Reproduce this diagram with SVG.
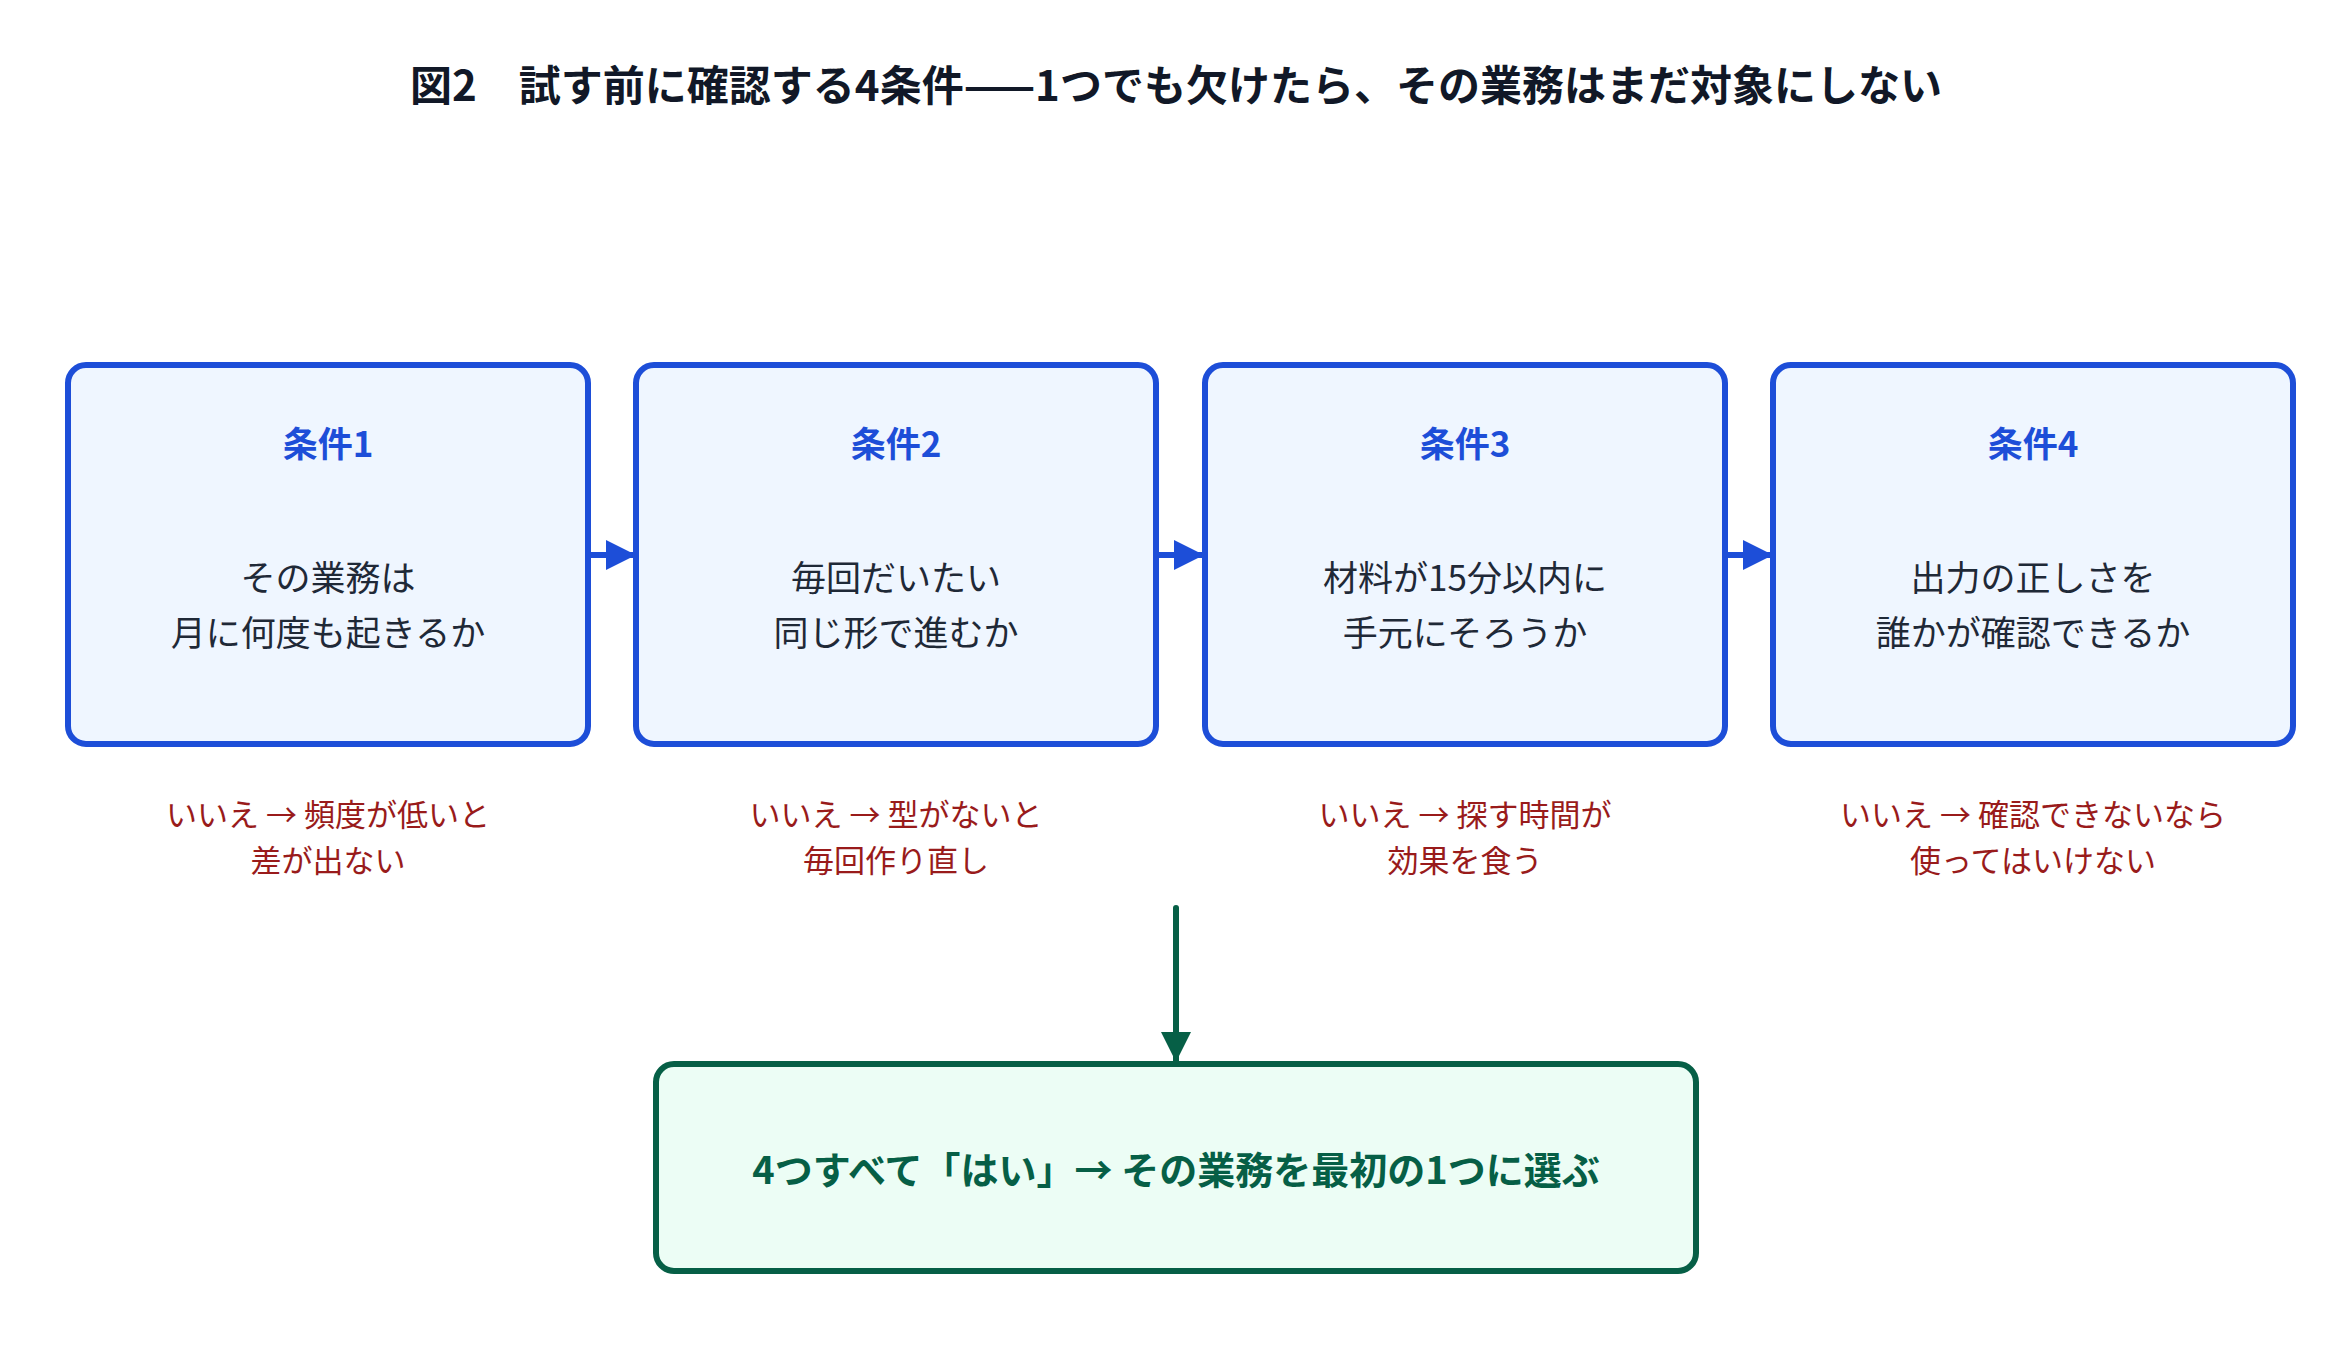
<svg xmlns="http://www.w3.org/2000/svg" width="2351" height="1351" viewBox="0 0 2351 1351">
<style>
text{font-family:"Noto Sans CJK JP","Noto Sans",sans-serif;text-anchor:middle;dominant-baseline:central}
.t{font-size:42px;font-weight:700;fill:#111827}
.box{fill:#EFF6FF;stroke:#1D4ED8;stroke-width:6}
.h{font-size:35px;font-weight:700;fill:#1D4ED8}
.b{font-size:35px;fill:#1F2937}
.r{font-size:31px;fill:#991B1B}
.g{fill:#ECFDF5;stroke:#065F46;stroke-width:6}
.gt{font-size:38px;font-weight:700;fill:#065F46}
</style>
<defs>
<marker id="ab" viewBox="0 0 10 10" refX="10" refY="5" markerWidth="5" markerHeight="5" markerUnits="strokeWidth" orient="auto"><path d="M0,0L10,5L0,10z" fill="#1D4ED8"/></marker>
<marker id="ag" viewBox="0 0 10 10" refX="10" refY="5" markerWidth="5" markerHeight="5" markerUnits="strokeWidth" orient="auto"><path d="M0,0L10,5L0,10z" fill="#065F46"/></marker>
</defs>
<rect width="2351" height="1351" fill="#fff"/>
<text class="t" x="1176" y="82">図2　試す前に確認する4条件——1つでも欠けたら、その業務はまだ対象にしない</text>
<g id="connectors" stroke-width="6" stroke-linecap="round">
<line x1="580" y1="555" x2="636" y2="555" stroke="#1D4ED8" marker-end="url(#ab)"/>
<line x1="1149" y1="555" x2="1204" y2="555" stroke="#1D4ED8" marker-end="url(#ab)"/>
<line x1="1717" y1="555" x2="1773" y2="555" stroke="#1D4ED8" marker-end="url(#ab)"/>
<line x1="1176" y1="908" x2="1176" y2="1062" stroke="#065F46" marker-end="url(#ag)"/>
</g>
<g id="c1"><rect class="box" x="68" y="365" width="520" height="379" rx="18"/>
<text class="h" x="328" y="441">条件1</text><text class="b" x="328" y="575">その業務は</text><text class="b" x="328" y="630">月に何度も起きるか</text>
<text class="r" x="328" y="812">いいえ → 頻度が低いと</text><text class="r" x="328" y="858">差が出ない</text></g>
<g id="c2"><rect class="box" x="636" y="365" width="520" height="379" rx="18"/>
<text class="h" x="896" y="441">条件2</text><text class="b" x="896" y="575">毎回だいたい</text><text class="b" x="896" y="630">同じ形で進むか</text>
<text class="r" x="896" y="812">いいえ → 型がないと</text><text class="r" x="896" y="858">毎回作り直し</text></g>
<g id="c3"><rect class="box" x="1205" y="365" width="520" height="379" rx="18"/>
<text class="h" x="1465" y="441">条件3</text><text class="b" x="1465" y="575">材料が15分以内に</text><text class="b" x="1465" y="630">手元にそろうか</text>
<text class="r" x="1465" y="812">いいえ → 探す時間が</text><text class="r" x="1465" y="858">効果を食う</text></g>
<g id="c4"><rect class="box" x="1773" y="365" width="520" height="379" rx="18"/>
<text class="h" x="2033" y="441">条件4</text><text class="b" x="2033" y="575">出力の正しさを</text><text class="b" x="2033" y="630">誰かが確認できるか</text>
<text class="r" x="2033" y="812">いいえ → 確認できないなら</text><text class="r" x="2033" y="858">使ってはいけない</text></g>
<g id="result"><rect class="g" x="656" y="1064" width="1040" height="207" rx="18"/>
<text class="gt" x="1176" y="1167">4つすべて「はい」→ その業務を最初の1つに選ぶ</text></g>
</svg>
